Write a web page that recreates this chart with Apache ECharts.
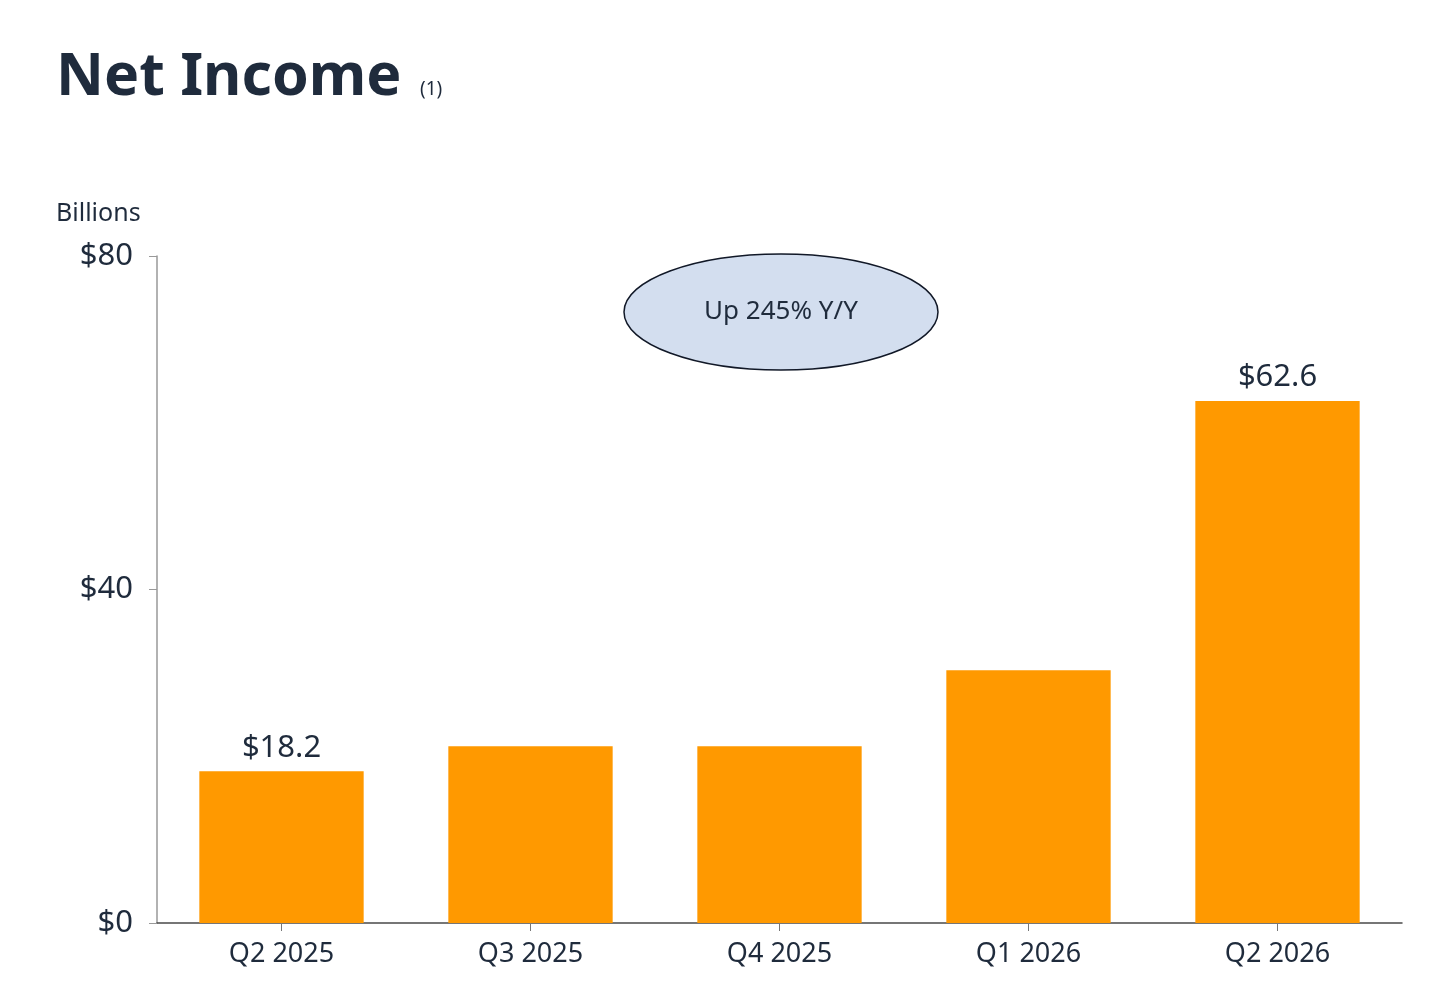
<!DOCTYPE html>
<html>
<head>
<meta charset="utf-8">
<script src="https://cdn.jsdelivr.net/npm/echarts@6/dist/echarts.min.js"></script>
<style>
html,body{margin:0;padding:0;background:#fff;}
#chart{width:1456px;height:992px;}
</style>
</head>
<body>
<div id="chart"></div>
<script>
var categories = ['Q2 2025', 'Q3 2025', 'Q4 2025', 'Q1 2026', 'Q2 2026'];
var netIncome = [18.2, 21.2, 21.2, 30.3, 62.6];
var showLabel = [true, false, false, false, true];
var yTicks = [0, 40, 80];

var FONT = "'Noto Sans', 'DejaVu Sans', sans-serif";
var DARK = '#1f2b3c';

var chart = echarts.init(document.getElementById('chart'));
chart.setOption({
  backgroundColor: '#ffffff',
  animation: false,
  textStyle: { fontFamily: FONT },
  grid: { left: 157, right: 54, top: 256, bottom: 69, containLabel: false },
  xAxis: {
    type: 'category',
    data: categories,
    axisLine: { show: true, lineStyle: { color: '#4a4a4a', width: 1.5 } },
    axisTick: { show: true, alignWithLabel: true, length: 8, lineStyle: { color: '#777' } },
    axisLabel: { color: DARK, fontSize: 27, margin: 18, fontFamily: FONT }
  },
  yAxis: {
    type: 'value',
    min: yTicks[0],
    max: yTicks[yTicks.length - 1],
    interval: 40,
    splitLine: { show: false },
    axisLine: { show: true, lineStyle: { color: '#999', width: 1.5 } },
    axisTick: { show: true, length: 8, lineStyle: { color: '#999' } },
    axisLabel: {
      color: DARK, fontSize: 31, margin: 24, fontFamily: FONT,
      formatter: function (v) { return '$' + v; }
    }
  },
  series: [{
    type: 'bar',
    barWidth: '66%',
    itemStyle: { color: '#ff9900' },
    data: netIncome.map(function (v, i) {
      return {
        value: v,
        label: {
          show: showLabel[i],
          position: 'top',
          distance: 8,
          color: DARK,
          fontSize: 31,
          fontFamily: FONT,
          formatter: function (p) { return '$' + p.value.toFixed(1); }
        }
      };
    })
  }],
  graphic: [
    {
      type: 'text', left: 56, top: 49,
      style: { text: 'Net Income', fill: DARK, font: "bold 59px " + FONT }
    },
    {
      type: 'text', left: 420, top: 80,
      style: { text: '(1)', fill: DARK, font: "19px " + FONT }
    },
    {
      type: 'text', left: 56, top: 201,
      style: { text: 'Billions', fill: DARK, font: "25px " + FONT }
    },
    {
      type: 'ellipse',
      shape: { cx: 781, cy: 312, rx: 157, ry: 58 },
      style: { fill: '#d3deef', stroke: '#111827', lineWidth: 1.5 },
      z: 10
    },
    {
      type: 'text', x: 781, y: 312, z: 11,
      style: { text: 'Up 245% Y/Y', fill: DARK, font: "26px " + FONT, align: 'center', verticalAlign: 'middle' }
    }
  ]
});
</script>
</body>
</html>
